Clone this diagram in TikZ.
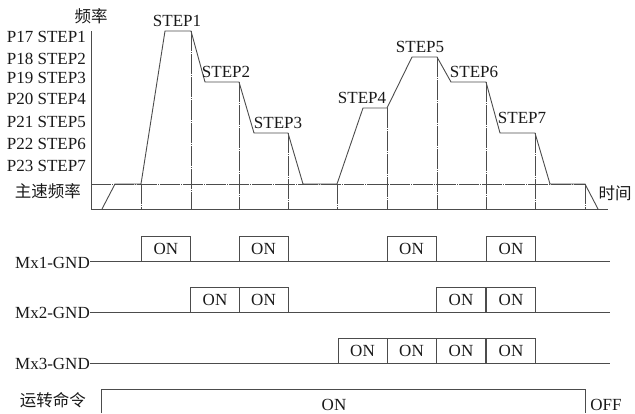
\documentclass[tikz,border=0pt]{standalone}
\usepackage{fontspec}
\setmainfont{Liberation Serif}
\newfontfamily\cjk{Noto Sans CJK SC}[Scale=0.97]
\begin{document}
\begin{tikzpicture}[x=1bp,y=-1bp,
  every node/.style={inner sep=0pt, text=black!90, font=\fontsize{17bp}{19bp}\selectfont},
  ln/.style={draw=black!70, line width=0.9bp},
  guide/.style={draw=black!70, line width=0.8bp, dash pattern=on 20bp off 1bp on 1bp off 1bp},
  lbl/.style={anchor=east},
  onbox/.style={draw=black!70, line width=0.8bp, minimum width=49bp, minimum height=25bp},
]
\useasboundingbox (0,0) rectangle (635,413);

% axes
\coordinate (ytop) at (91,31);
\coordinate (orig) at (91,209);
\coordinate (xend) at (608,209);
\draw[ln] (ytop) -- (orig) -- (xend);

% main speed reference line
\coordinate (m0) at (91,184);
\coordinate (m1) at (585,184);
\draw[guide] (m0) -- (m1);

% vertical guides
\foreach \x/\y in {141/184,191/31,239/82,288/133,337/184,387/108,437/57,486/82,535/133,585/184}
  \draw[guide] (\x,\y) -- (\x,209);

% frequency curve
\draw[ln] (102,209) -- (115,184) -- (141,184) -- (165,31) -- (191,31) -- (205,82) -- (239,82)
  -- (254,133) -- (288,133) -- (303,184) -- (337,184) -- (363,108) -- (387,108) -- (412,57)
  -- (437,57) -- (451,82) -- (486,82) -- (500,133) -- (535,133) -- (550,184) -- (585,184) -- (598,209);

% axis labels
\node (fq) at (91,16) {\cjk 频率};
\node (tm) at (615,193) {\cjk 时间};
\node[lbl] (p17) at (86,37) {P17 STEP1};
\node[lbl] (p18) at (86,59) {P18 STEP2};
\node[lbl] (p19) at (86,78) {P19 STEP3};
\node[lbl] (p20) at (86,99) {P20 STEP4};
\node[lbl] (p21) at (86,122) {P21 STEP5};
\node[lbl] (p22) at (86,144) {P22 STEP6};
\node[lbl] (p23) at (86,166) {P23 STEP7};
\node[lbl] (mf) at (81,191) {\cjk 主速频率};

% step labels
\node (s1) at (177,21) {STEP1};
\node (s2) at (226,72) {STEP2};
\node (s3) at (278,123) {STEP3};
\node (s4) at (362,98) {STEP4};
\node (s5) at (420,47) {STEP5};
\node (s6) at (474,72) {STEP6};
\node (s7) at (522,118) {STEP7};

% digital inputs
\node[lbl] (mx1) at (90,263) {Mx1-GND};
\node[lbl] (mx2) at (90,313) {Mx2-GND};
\node[lbl] (mx3) at (90,364) {Mx3-GND};
\coordinate (e1) at (610,261);
\coordinate (e2) at (610,312);
\coordinate (e3) at (610,363);

\node[onbox] (a1) at (166,248.5) {ON};
\node[onbox] (a2) at (263.5,248.5) {ON};
\node[onbox] (a3) at (411.5,248.5) {ON};
\node[onbox] (a4) at (511,248.5) {ON};

\node[onbox] (b1) at (215,299.5) {ON};
\node[onbox] (b2) at (263.5,299.5) {ON};
\node[onbox] (b3) at (461,299.5) {ON};
\node[onbox] (b4) at (511,299.5) {ON};

\node[onbox] (c1) at (362.5,350.5) {ON};
\node[onbox] (c2) at (411.5,350.5) {ON};
\node[onbox] (c3) at (461,350.5) {ON};
\node[onbox] (c4) at (511,350.5) {ON};

\draw[ln] (mx1.east |- e1) -- (e1);
\draw[ln] (mx2.east |- e2) -- (e2);
\draw[ln] (mx3.east |- e3) -- (e3);

% run command
\node[lbl] (run) at (86,400) {\cjk 运转命令};
\coordinate (r0) at (101,413);
\coordinate (r1) at (585,413);
\draw[ln] (r0) |- (585,389) -- (r1);
\node (ron) at (334,405) {ON};
\node (off) at (606,405) {OFF};
\end{tikzpicture}
\end{document}
